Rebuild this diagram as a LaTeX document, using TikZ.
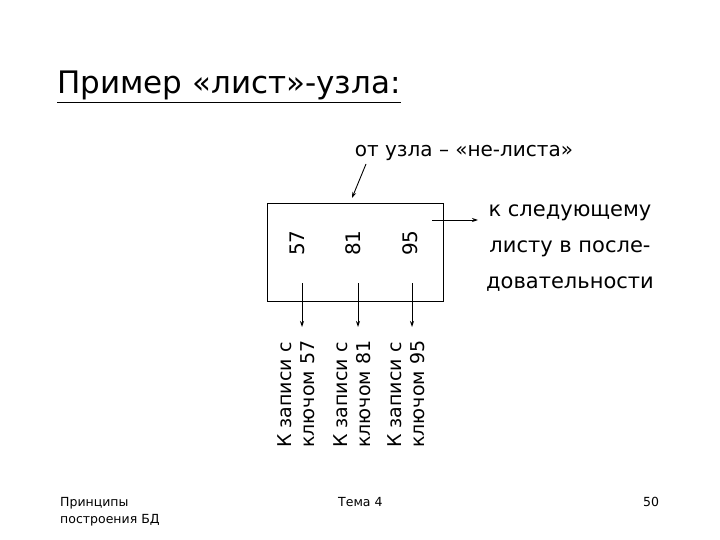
\documentclass[tikz,border=0pt]{standalone}
\usepackage{fontspec}
\setmainfont{DejaVu Sans}
\usetikzlibrary{arrows.meta}
\begin{document}
\begin{tikzpicture}[x=1pt,y=-1pt,
  lbl/.style={font=\fontsize{20}{24}\selectfont,inner sep=0pt},
  arr/.style={-{Stealth[length=6pt,width=4pt]},line width=0.9pt},
  foot/.style={font=\fontsize{12.5}{17}\selectfont,inner sep=0pt}]
\useasboundingbox (0,0) rectangle (720,540);
\node[font=\fontsize{31}{36}\selectfont,anchor=base west,inner sep=0pt] (title) at (57,94) {\underline{Пример «лист»-узла:}};
\node[lbl,anchor=base] (from) at (464,157) {от узла – «не-листа»};
\node[draw,line width=0.9pt,minimum width=176pt,minimum height=98pt,inner sep=0pt] (box) at (355,252) {};
\node[lbl,rotate=90] (k57) at (297,243) {57};
\node[lbl,rotate=90] (k81) at (353,243) {81};
\node[lbl,rotate=90] (k95) at (410,243) {95};
\coordinate (s) at (366,164);
\coordinate (t) at (352,198);
\draw[arr] (s) -- (t);
\coordinate (r0) at (432,220);
\node[align=center,anchor=north,inner sep=0pt,font=\fontsize{21}{36}\selectfont] (next) at (570,205) {к следующему\\листу в после-\\довательности};
\draw[arr] (r0) -- (478,220);
\foreach \n/\x in {57/302,81/358,95/412}{
  \coordinate (a\n) at (\x,283);
  \node[lbl,rotate=90,align=left,anchor=west,font=\fontsize{19}{23}\selectfont] (t\n) at (\x-6,448) {К записи с\\ключом \n};
  \draw[arr] (a\n) -- (\x,327);
}
\node[foot,align=left,anchor=north west] (f1) at (60,497) {Принципы\\построения БД};
\node[foot,anchor=north west] (f2) at (338,497) {Тема 4};
\node[foot,anchor=north west] (f3) at (643,497) {50};
\end{tikzpicture}
\end{document}
